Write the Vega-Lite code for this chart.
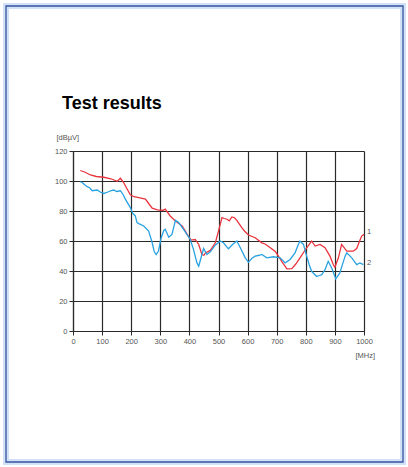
{
  "$schema": "https://vega.github.io/schema/vega-lite/v6.json",
  "width": 291,
  "height": 180,
  "autosize": {"type": "none"},
  "padding": {"left": 73, "top": 151, "right": 44, "bottom": 136},
  "background": "white",
  "title": {
    "text": "Test results",
    "anchor": "start",
    "frame": "group",
    "dx": -11,
    "offset": -124,
    "baseline": "alphabetic",
    "font": "Liberation Sans",
    "fontSize": 18,
    "fontWeight": "bold",
    "color": "#000000"
  },
  "config": {
    "view": {"stroke": null},
    "axis": {
      "labelFont": "Liberation Sans",
      "labelFontSize": 7.5,
      "labelColor": "#555555",
      "labelOverlap": false,
      "labelFlush": false,
      "titleFont": "Liberation Sans",
      "titleFontSize": 7.5,
      "titleFontWeight": "normal",
      "titleColor": "#555555",
      "gridColor": "#2a2a2a",
      "gridWidth": 1.2,
      "gridOpacity": 1,
      "domainColor": "#2a2a2a",
      "domainWidth": 1.2,
      "tickColor": "#2a2a2a",
      "tickSize": 4,
      "labelPadding": 2,
      "format": "d"
    }
  },
  "layer": [
    {
      "data": {"values": [{"frame": "outer"}]},
      "mark": {"type": "rect", "fill": null, "stroke": "#b4cdf3", "strokeWidth": 6, "strokeOpacity": 0.6},
      "encoding": {"x": {"value": -67}, "x2": {"value": 330}, "y": {"value": -145}, "y2": {"value": 311}}
    },
    {
      "data": {"values": [{"frame": "outer"}]},
      "mark": {"type": "rect", "fill": null, "stroke": "#34549e", "strokeWidth": 1.3},
      "encoding": {"x": {"value": -67}, "x2": {"value": 330}, "y": {"value": -145}, "y2": {"value": 311}}
    },
    {
      "data": {
        "values": [
          {"f": 25, "v": 107, "s": "1"}, {"f": 40, "v": 106, "s": "1"}, {"f": 60, "v": 104, "s": "1"}, {"f": 80, "v": 103, "s": "1"},
          {"f": 106, "v": 102.5, "s": "1"}, {"f": 130, "v": 101.5, "s": "1"}, {"f": 152, "v": 99.8, "s": "1"}, {"f": 163, "v": 101.8, "s": "1"},
          {"f": 174, "v": 99, "s": "1"}, {"f": 185, "v": 95, "s": "1"}, {"f": 197, "v": 90.8, "s": "1"}, {"f": 210, "v": 89.5, "s": "1"},
          {"f": 230, "v": 88.8, "s": "1"}, {"f": 249, "v": 88, "s": "1"}, {"f": 260, "v": 85, "s": "1"}, {"f": 272, "v": 81.9, "s": "1"},
          {"f": 290, "v": 80.8, "s": "1"}, {"f": 310, "v": 80.5, "s": "1"}, {"f": 317, "v": 81.2, "s": "1"}, {"f": 334, "v": 76.7, "s": "1"},
          {"f": 352, "v": 73.4, "s": "1"}, {"f": 365, "v": 71.5, "s": "1"}, {"f": 375, "v": 70, "s": "1"}, {"f": 385, "v": 67, "s": "1"},
          {"f": 392, "v": 64.4, "s": "1"}, {"f": 406, "v": 60.6, "s": "1"}, {"f": 420, "v": 61, "s": "1"}, {"f": 432, "v": 57.7, "s": "1"},
          {"f": 443, "v": 51, "s": "1"}, {"f": 450, "v": 50.5, "s": "1"}, {"f": 455, "v": 52, "s": "1"}, {"f": 472, "v": 53.7, "s": "1"},
          {"f": 489, "v": 58.8, "s": "1"}, {"f": 500, "v": 66.6, "s": "1"}, {"f": 512, "v": 75.6, "s": "1"}, {"f": 520, "v": 75, "s": "1"},
          {"f": 529, "v": 74.5, "s": "1"}, {"f": 537, "v": 73.5, "s": "1"}, {"f": 546, "v": 76, "s": "1"}, {"f": 555, "v": 75.5, "s": "1"},
          {"f": 563, "v": 73.8, "s": "1"}, {"f": 580, "v": 68.9, "s": "1"}, {"f": 590, "v": 66.5, "s": "1"}, {"f": 603, "v": 64, "s": "1"},
          {"f": 626, "v": 62.2, "s": "1"}, {"f": 649, "v": 58.8, "s": "1"}, {"f": 660, "v": 58, "s": "1"}, {"f": 678, "v": 55.5, "s": "1"},
          {"f": 695, "v": 53, "s": "1"}, {"f": 706, "v": 49.9, "s": "1"}, {"f": 720, "v": 45.5, "s": "1"}, {"f": 735, "v": 41.4, "s": "1"},
          {"f": 752, "v": 41.6, "s": "1"}, {"f": 765, "v": 44.5, "s": "1"}, {"f": 780, "v": 48.8, "s": "1"}, {"f": 803, "v": 55.5, "s": "1"},
          {"f": 820, "v": 60, "s": "1"}, {"f": 832, "v": 56.6, "s": "1"}, {"f": 849, "v": 57.7, "s": "1"}, {"f": 866, "v": 55.5, "s": "1"},
          {"f": 883, "v": 49.9, "s": "1"}, {"f": 895, "v": 44, "s": "1"}, {"f": 900, "v": 42.5, "s": "1"}, {"f": 912, "v": 48.8, "s": "1"},
          {"f": 923, "v": 57.7, "s": "1"}, {"f": 941, "v": 53.2, "s": "1"}, {"f": 963, "v": 53.2, "s": "1"}, {"f": 975, "v": 55, "s": "1"},
          {"f": 985, "v": 60, "s": "1"}, {"f": 992, "v": 63.3, "s": "1"}, {"f": 1000, "v": 64.4, "s": "1"},

          {"f": 25, "v": 99.5, "s": "2"}, {"f": 32, "v": 99, "s": "2"}, {"f": 40, "v": 97.5, "s": "2"}, {"f": 49, "v": 96.2, "s": "2"},
          {"f": 57, "v": 95.5, "s": "2"}, {"f": 66, "v": 93.5, "s": "2"}, {"f": 83, "v": 94, "s": "2"}, {"f": 95, "v": 92.5, "s": "2"},
          {"f": 106, "v": 91.7, "s": "2"}, {"f": 118, "v": 92.5, "s": "2"}, {"f": 129, "v": 93.5, "s": "2"}, {"f": 140, "v": 94, "s": "2"},
          {"f": 150, "v": 93, "s": "2"}, {"f": 163, "v": 93.5, "s": "2"}, {"f": 172, "v": 91, "s": "2"}, {"f": 180, "v": 87.9, "s": "2"},
          {"f": 197, "v": 82.3, "s": "2"}, {"f": 205, "v": 78.5, "s": "2"}, {"f": 214, "v": 76.7, "s": "2"}, {"f": 220, "v": 72.3, "s": "2"},
          {"f": 226, "v": 71.6, "s": "2"}, {"f": 243, "v": 70, "s": "2"}, {"f": 260, "v": 66.6, "s": "2"}, {"f": 272, "v": 59, "s": "2"},
          {"f": 279, "v": 53, "s": "2"}, {"f": 286, "v": 51, "s": "2"}, {"f": 294, "v": 53.5, "s": "2"}, {"f": 303, "v": 62.2, "s": "2"},
          {"f": 312, "v": 67, "s": "2"}, {"f": 317, "v": 67.8, "s": "2"}, {"f": 329, "v": 62.5, "s": "2"}, {"f": 340, "v": 64.4, "s": "2"},
          {"f": 352, "v": 73.8, "s": "2"}, {"f": 363, "v": 72.3, "s": "2"}, {"f": 380, "v": 67.8, "s": "2"}, {"f": 403, "v": 61, "s": "2"},
          {"f": 414, "v": 54.4, "s": "2"}, {"f": 426, "v": 45.4, "s": "2"}, {"f": 432, "v": 43.2, "s": "2"}, {"f": 443, "v": 51, "s": "2"},
          {"f": 449, "v": 55, "s": "2"}, {"f": 460, "v": 51, "s": "2"}, {"f": 472, "v": 52.8, "s": "2"}, {"f": 489, "v": 57.2, "s": "2"},
          {"f": 506, "v": 60, "s": "2"}, {"f": 517, "v": 58.8, "s": "2"}, {"f": 534, "v": 54.8, "s": "2"}, {"f": 550, "v": 58, "s": "2"},
          {"f": 563, "v": 60, "s": "2"}, {"f": 575, "v": 55.5, "s": "2"}, {"f": 592, "v": 48.8, "s": "2"}, {"f": 603, "v": 45.8, "s": "2"},
          {"f": 615, "v": 48.5, "s": "2"}, {"f": 626, "v": 49.9, "s": "2"}, {"f": 640, "v": 50.5, "s": "2"}, {"f": 649, "v": 51, "s": "2"},
          {"f": 666, "v": 48.8, "s": "2"}, {"f": 689, "v": 49.5, "s": "2"}, {"f": 712, "v": 48.8, "s": "2"}, {"f": 729, "v": 45.4, "s": "2"},
          {"f": 746, "v": 47.7, "s": "2"}, {"f": 763, "v": 52.1, "s": "2"}, {"f": 775, "v": 58, "s": "2"}, {"f": 780, "v": 60, "s": "2"},
          {"f": 792, "v": 57.7, "s": "2"}, {"f": 803, "v": 49.9, "s": "2"}, {"f": 812, "v": 44, "s": "2"}, {"f": 820, "v": 39.8, "s": "2"},
          {"f": 837, "v": 36.4, "s": "2"}, {"f": 847, "v": 37, "s": "2"}, {"f": 855, "v": 37.6, "s": "2"}, {"f": 866, "v": 40.9, "s": "2"},
          {"f": 877, "v": 46.5, "s": "2"}, {"f": 889, "v": 42, "s": "2"}, {"f": 903, "v": 34.7, "s": "2"}, {"f": 917, "v": 38.7, "s": "2"},
          {"f": 935, "v": 49.9, "s": "2"}, {"f": 941, "v": 52.1, "s": "2"}, {"f": 958, "v": 48.8, "s": "2"}, {"f": 975, "v": 44.3, "s": "2"},
          {"f": 986, "v": 45.4, "s": "2"}, {"f": 998, "v": 44.3, "s": "2"}
        ]
      },
      "mark": {"type": "line", "strokeWidth": 1.3},
      "encoding": {
        "x": {
          "field": "f", "type": "quantitative",
          "scale": {"domain": [0, 1000], "nice": false},
          "axis": {
            "values": [0, 100, 200, 300, 400, 500, 600, 700, 800, 900, 1000],
            "title": "[MHz]",
            "titleX": 282, "titleY": 24, "titleAlign": "left", "titleBaseline": "middle", "titleAnchor": null
          }
        },
        "y": {
          "field": "v", "type": "quantitative",
          "scale": {"domain": [0, 120], "nice": false},
          "axis": {
            "values": [0, 20, 40, 60, 80, 100, 120],
            "title": "[dBµV]",
            "titleAngle": 0, "titleX": -17, "titleY": -14, "titleAlign": "left", "titleBaseline": "middle", "titleAnchor": null
          }
        },
        "color": {
          "field": "s", "type": "nominal",
          "scale": {"domain": ["1", "2"], "range": ["#e8343f", "#2aa2df"]},
          "legend": null
        },
        "order": {"field": "f", "type": "quantitative"}
      }
    },
    {
      "data": {"values": [{"f": 1000, "v": 64.4, "s": "1"}, {"f": 1000, "v": 44.3, "s": "2"}]},
      "mark": {"type": "text", "align": "left", "baseline": "middle", "dx": 3, "dy": -2, "font": "Liberation Sans", "fontSize": 7.5, "color": "#555555"},
      "encoding": {
        "x": {
          "field": "f", "type": "quantitative",
          "scale": {"domain": [0, 1000], "nice": false},
          "axis": {
            "values": [0, 100, 200, 300, 400, 500, 600, 700, 800, 900, 1000],
            "title": "[MHz]",
            "titleX": 282, "titleY": 24, "titleAlign": "left", "titleBaseline": "middle", "titleAnchor": null
          }
        },
        "y": {
          "field": "v", "type": "quantitative",
          "scale": {"domain": [0, 120], "nice": false},
          "axis": {
            "values": [0, 20, 40, 60, 80, 100, 120],
            "title": "[dBµV]",
            "titleAngle": 0, "titleX": -17, "titleY": -14, "titleAlign": "left", "titleBaseline": "middle", "titleAnchor": null
          }
        },
        "text": {"field": "s"}
      }
    }
  ]
}
